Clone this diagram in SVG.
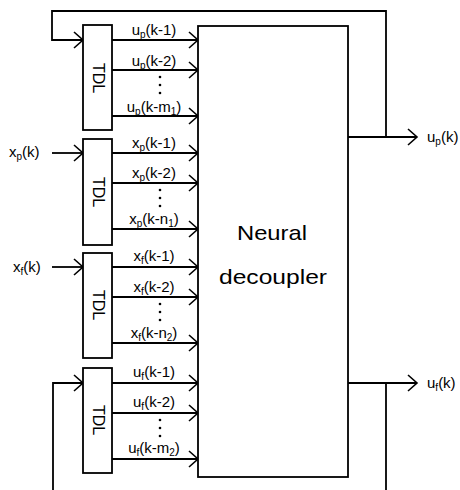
<svg xmlns="http://www.w3.org/2000/svg" width="460" height="490" viewBox="0 0 460 490">
<style>
.box{fill:#fff;stroke:#000;stroke-width:1.8}
.ln{fill:none;stroke:#000;stroke-width:1.8}
.ar{marker-end:url(#ah)}
text{font-family:"Liberation Sans",Arial,sans-serif;fill:#000}
.lb{font-size:15px;text-anchor:middle}
.io{font-size:15px}
.sb{font-size:10px}
.tdl{font-size:16px;text-anchor:middle;dominant-baseline:central}
.big{font-size:21px;text-anchor:middle}
</style>
<defs>
<marker id="ah" markerUnits="userSpaceOnUse" markerWidth="20" markerHeight="20" viewBox="-11 -10 13 20" refX="0" refY="0" orient="auto" overflow="visible">
<path d="M-9,-8 L0,0 L-9,8" fill="none" stroke="#000" stroke-width="1.6"/>
</marker>
</defs>
<g id="connectors">
<polyline class="ln ar" points="348,137 417,137"/>
<polyline class="ln ar" points="386,137 386,11 52,11 52,40 83,40"/>
<polyline class="ln ar" points="348,383 417,383"/>
<polyline class="ln" points="386,383 386,490"/>
<polyline class="ln ar" points="53,490 53,383 83,383"/>
<line class="ln ar" x1="52" y1="153" x2="83" y2="153"/>
<line class="ln ar" x1="52" y1="267" x2="83" y2="267"/>
<line class="ln ar" x1="112" y1="40" x2="198" y2="40"/>
<line class="ln ar" x1="112" y1="70" x2="198" y2="70"/>
<line class="ln ar" x1="112" y1="116" x2="198" y2="116"/>
<line class="ln ar" x1="112" y1="153" x2="198" y2="153"/>
<line class="ln ar" x1="112" y1="183" x2="198" y2="183"/>
<line class="ln ar" x1="112" y1="229" x2="198" y2="229"/>
<line class="ln ar" x1="112" y1="267" x2="198" y2="267"/>
<line class="ln ar" x1="112" y1="297" x2="198" y2="297"/>
<line class="ln ar" x1="112" y1="343" x2="198" y2="343"/>
<line class="ln ar" x1="112" y1="383" x2="198" y2="383"/>
<line class="ln ar" x1="112" y1="413" x2="198" y2="413"/>
<line class="ln ar" x1="112" y1="459" x2="198" y2="459"/>
<g fill="#000">
<circle cx="160" cy="77" r="1.3"/><circle cx="160" cy="85" r="1.3"/><circle cx="160" cy="93" r="1.3"/>
<circle cx="160" cy="190" r="1.3"/><circle cx="160" cy="198" r="1.3"/><circle cx="160" cy="206" r="1.3"/>
<circle cx="160" cy="304" r="1.3"/><circle cx="160" cy="312" r="1.3"/><circle cx="160" cy="320" r="1.3"/>
<circle cx="160" cy="420" r="1.3"/><circle cx="160" cy="428" r="1.3"/><circle cx="160" cy="436" r="1.3"/>
</g>
<text class="lb" x="154" y="35">u<tspan class="sb" dy="3">p</tspan><tspan dy="-3">(k-1)</tspan></text>
<text class="lb" x="154" y="66">u<tspan class="sb" dy="3">p</tspan><tspan dy="-3">(k-2)</tspan></text>
<text class="lb" x="154" y="112">u<tspan class="sb" dy="3">p</tspan><tspan dy="-3">(k-m</tspan><tspan class="sb" dy="3">1</tspan><tspan dy="-3">)</tspan></text>
<text class="lb" x="154" y="148">x<tspan class="sb" dy="3">p</tspan><tspan dy="-3">(k-1)</tspan></text>
<text class="lb" x="154" y="178">x<tspan class="sb" dy="3">p</tspan><tspan dy="-3">(k-2)</tspan></text>
<text class="lb" x="154" y="224">x<tspan class="sb" dy="3">p</tspan><tspan dy="-3">(k-n</tspan><tspan class="sb" dy="3">1</tspan><tspan dy="-3">)</tspan></text>
<text class="lb" x="154" y="261">x<tspan class="sb" dy="3">f</tspan><tspan dy="-3">(k-1)</tspan></text>
<text class="lb" x="154" y="292">x<tspan class="sb" dy="3">f</tspan><tspan dy="-3">(k-2)</tspan></text>
<text class="lb" x="154" y="338">x<tspan class="sb" dy="3">f</tspan><tspan dy="-3">(k-n</tspan><tspan class="sb" dy="3">2</tspan><tspan dy="-3">)</tspan></text>
<text class="lb" x="154" y="377">u<tspan class="sb" dy="3">f</tspan><tspan dy="-3">(k-1)</tspan></text>
<text class="lb" x="154" y="407">u<tspan class="sb" dy="3">f</tspan><tspan dy="-3">(k-2)</tspan></text>
<text class="lb" x="154" y="453">u<tspan class="sb" dy="3">f</tspan><tspan dy="-3">(k-m</tspan><tspan class="sb" dy="3">2</tspan><tspan dy="-3">)</tspan></text>
<text class="io" x="9" y="157">x<tspan class="sb" dy="3">p</tspan><tspan dy="-3">(k)</tspan></text>
<text class="io" x="13" y="272">x<tspan class="sb" dy="3">f</tspan><tspan dy="-3">(k)</tspan></text>
<text class="io" x="427" y="142">u<tspan class="sb" dy="3">p</tspan><tspan dy="-3">(k)</tspan></text>
<text class="io" x="427" y="388">u<tspan class="sb" dy="3">f</tspan><tspan dy="-3">(k)</tspan></text>
</g>
<g id="tdl1"><rect class="box" x="83" y="25" width="29" height="105"/><text class="tdl" transform="translate(98,78) rotate(90)">TDL</text></g>
<g id="tdl2"><rect class="box" x="83" y="139" width="29" height="106"/><text class="tdl" transform="translate(98,192) rotate(90)">TDL</text></g>
<g id="tdl3"><rect class="box" x="83" y="253" width="29" height="105"/><text class="tdl" transform="translate(98,305) rotate(90)">TDL</text></g>
<g id="tdl4"><rect class="box" x="83" y="368" width="29" height="105"/><text class="tdl" transform="translate(98,420) rotate(90)">TDL</text></g>
<g id="decoupler"><rect class="box" x="198" y="26" width="150" height="451"/><text class="big" x="272" y="240" textLength="70" lengthAdjust="spacingAndGlyphs">Neural</text><text class="big" x="273" y="284" textLength="108" lengthAdjust="spacingAndGlyphs">decoupler</text></g>
</svg>
